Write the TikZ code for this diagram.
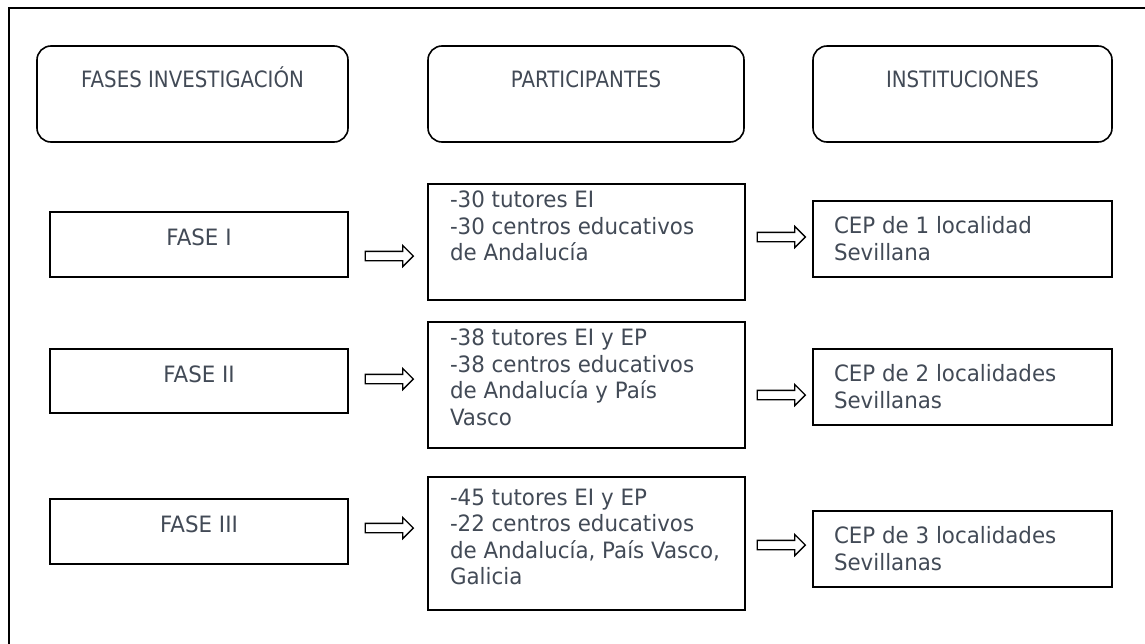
\documentclass[tikz,border=0pt]{standalone}
\usepackage{fontspec}
\setmainfont[FakeStretch=0.95]{DejaVu Sans}
\newfontfamily\headfont[FakeStretch=0.88]{DejaVu Sans}
\usetikzlibrary{shapes.arrows}
\definecolor{txtc}{RGB}{66,74,86}
\begin{document}
\begin{tikzpicture}[x=1pt,y=-1pt,
  every node/.style={inner sep=0pt, outer sep=0pt},
  headbox/.style={draw=black, line width=1.6pt, rounded corners=14pt},
  plainbox/.style={draw=black, line width=1.6pt},
  txt/.style={text=txtc, font=\fontsize{22.5}{26.5}\selectfont, align=left},
  headtxt/.style={text=txtc, font=\headfont\fontsize{22.5}{26.5}\selectfont},
  blockarrow/.style={shape=single arrow, draw=black, line width=1.3pt, fill=white,
     minimum height=48pt, minimum width=20pt, inner sep=4pt,
     single arrow head extend=6pt, single arrow head indent=0pt}
]
\useasboundingbox (0,0) rectangle (1145,643);
% outer frame (cropped at right and bottom)
\draw[line width=1.6pt] (9,650) -- (9,8) -- (1150,8);

% header boxes
\draw[headbox] (37,46) rectangle (348,142);
\node[headtxt, anchor=base] (h1) at (192.5,87) {FASES INVESTIGACIÓN};
\draw[headbox] (428,46) rectangle (744,142);
\node[headtxt, anchor=base] (h2) at (586,87) {PARTICIPANTES};
\draw[headbox] (813,46) rectangle (1112,142);
\node[headtxt, anchor=base] (h3) at (962.5,87) {INSTITUCIONES};

% phase boxes
\draw[plainbox] (50,212) rectangle (348,277);
\node[txt, anchor=base] (f1) at (199,245) {FASE I};
\draw[plainbox] (50,349) rectangle (348,413);
\node[txt, anchor=base] (f2) at (199,382) {FASE II};
\draw[plainbox] (50,499) rectangle (348,564);
\node[txt, anchor=base] (f3) at (199,532) {FASE III};

% participant boxes
\draw[plainbox] (428,184) rectangle (745,300);
\node[txt, anchor=north west] (p1) at (450,191) {-30 tutores EI\\-30 centros educativos\\de Andalucía};
\draw[plainbox] (428,322) rectangle (745,448);
\node[txt, anchor=north west] (p2) at (450,329) {-38 tutores EI y EP\\-38 centros educativos\\de Andalucía y País\\Vasco};
\draw[plainbox] (428,477) rectangle (745,610);
\node[txt, anchor=north west] (p3) at (450,489) {-45 tutores EI y EP\\-22 centros educativos\\de Andalucía, País Vasco,\\Galicia};

% institution boxes
\draw[plainbox] (813,201) rectangle (1112,277);
\node[txt, anchor=north west] (c1) at (834,216.5) {CEP de 1 localidad\\Sevillana};
\draw[plainbox] (813,349) rectangle (1112,425);
\node[txt, anchor=north west] (c2) at (834,364.5) {CEP de 2 localidades\\Sevillanas};
\draw[plainbox] (813,511) rectangle (1112,587);
\node[txt, anchor=north west] (c3) at (834,526.5) {CEP de 3 localidades\\Sevillanas};

% block arrows
\node[blockarrow] (a1) at (387,256) {};
\node[blockarrow] (a2) at (387,379) {};
\node[blockarrow] (a3) at (387,528) {};
\node[blockarrow] (b1) at (779,237) {};
\node[blockarrow] (b2) at (779,395) {};
\node[blockarrow] (b3) at (779,545) {};
\end{tikzpicture}
\end{document}
